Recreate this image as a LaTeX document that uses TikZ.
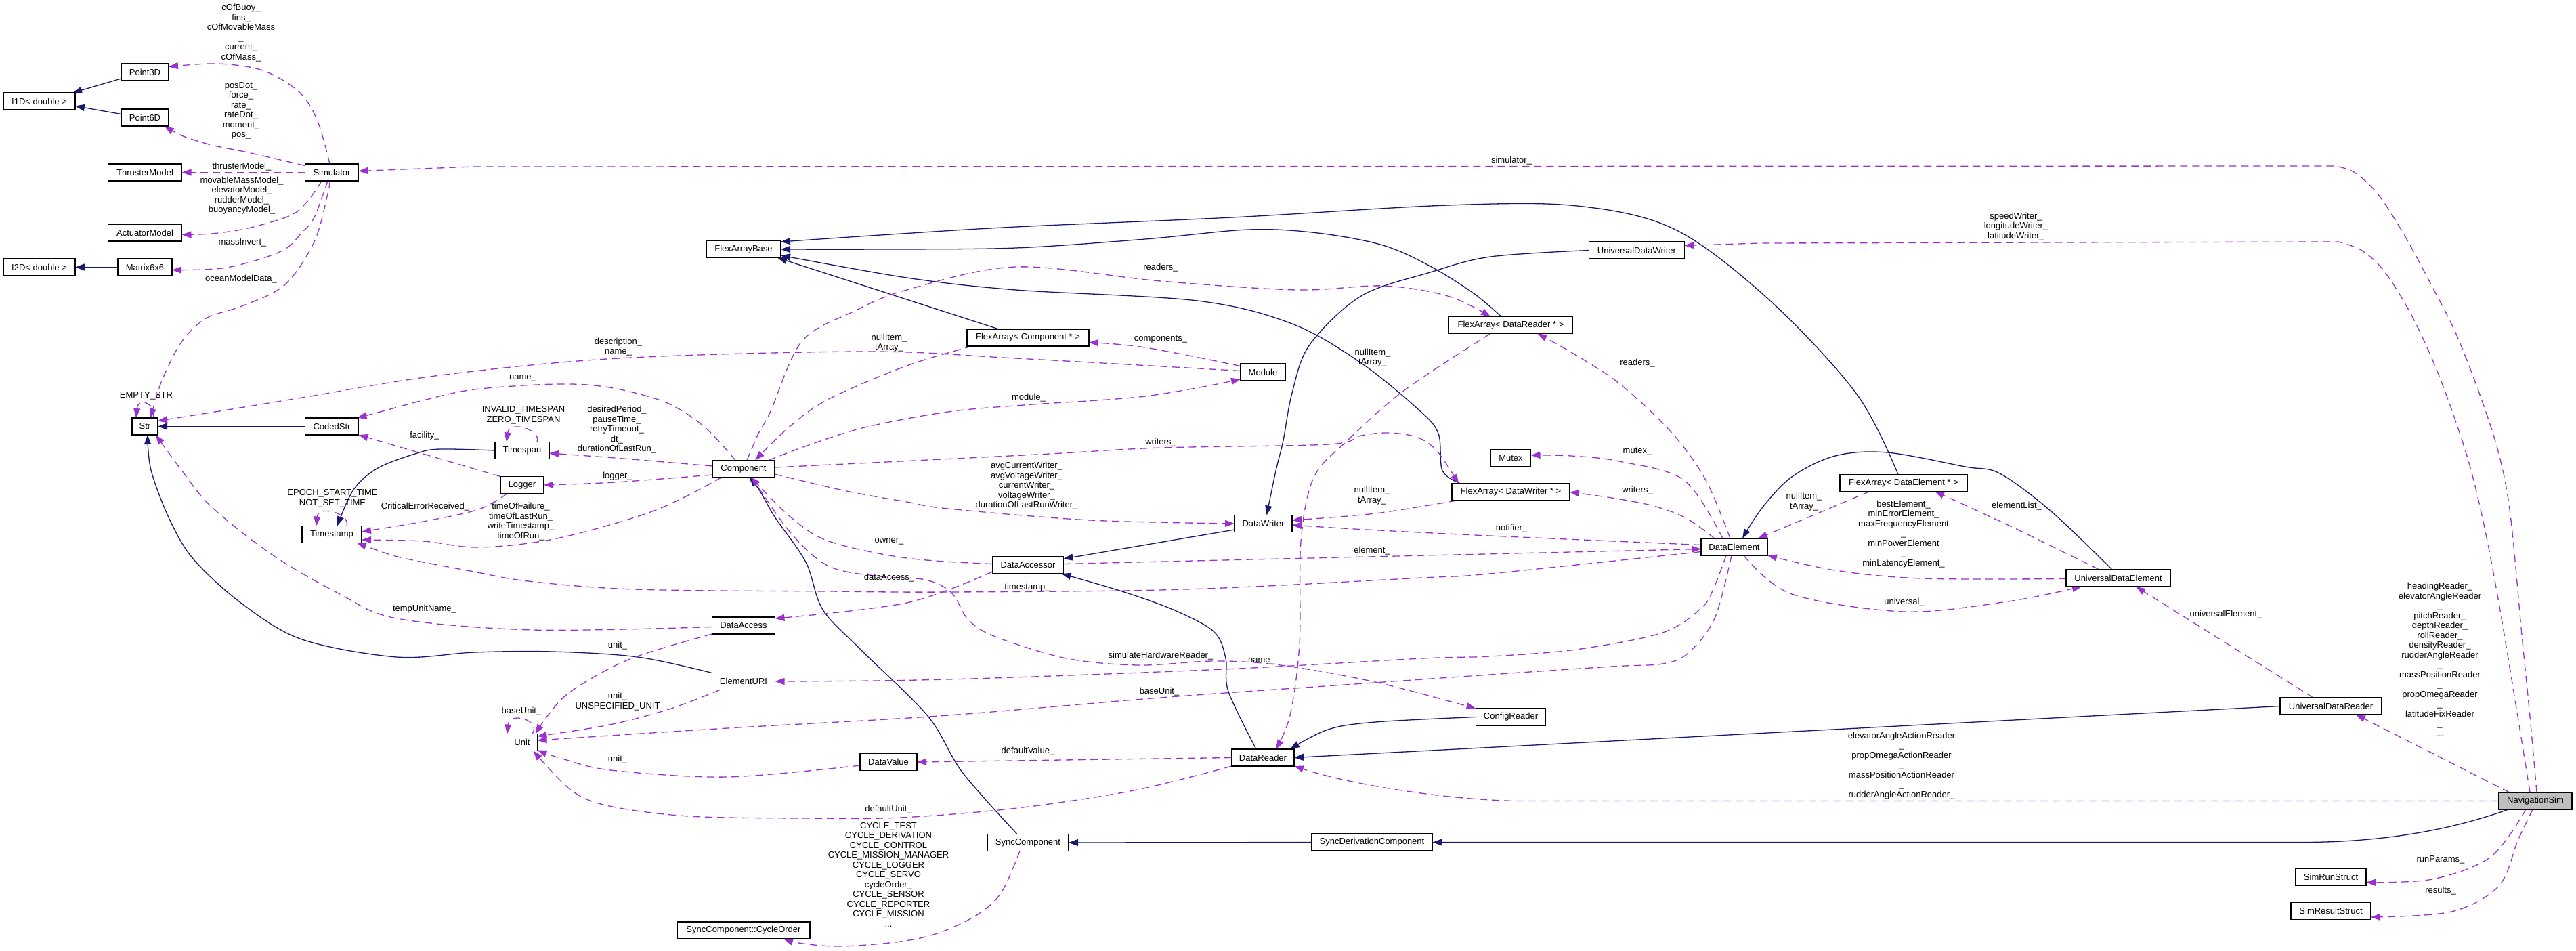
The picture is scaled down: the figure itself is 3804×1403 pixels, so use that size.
\documentclass[tikz,border=0pt]{standalone}
\usepackage{fontspec}
\setmainfont{Liberation Sans}
\usetikzlibrary{arrows.meta}
\definecolor{inhcol}{HTML}{191970}
\definecolor{usecol}{HTML}{9A32CD}
\definecolor{navfill}{HTML}{BFBFBF}
\pgfdeclarelayer{edges}
\pgfsetlayers{edges,main}
\begin{document}
\begin{tikzpicture}[x=1pt,y=-1pt,
  font=\fontsize{13}{14.5}\selectfont,
  cls/.style={draw=black, line width=1.8pt, fill=white, minimum height=25pt, inner sep=0pt, outer sep=0pt},
  lbl/.style={align=center, inner sep=0pt},
  inhe/.style={draw=inhcol, line width=1.3pt, -{Triangle[length=14pt,width=10pt]}},
  usee/.style={draw=usecol, line width=1.3pt, dash pattern=on 11pt off 7pt, -{Triangle[length=14pt,width=10pt]}},
  sm/.style={smooth, tension=0.55}
]
\useasboundingbox (0,0) rectangle (3804,1403);

% ---------------- nodes ----------------
\node[cls, minimum width=106pt] (I1D) at (58,149.5) {I1D< double >};
\node[cls, minimum width=106pt] (I2D) at (58,394.5) {I2D< double >};
\node[cls, minimum width=70pt] (P3) at (214,106.5) {Point3D};
\node[cls, minimum width=70pt] (P6) at (214,173.5) {Point6D};
\node[cls, minimum width=109pt] (Thr) at (214,254.5) {ThrusterModel};
\node[cls, minimum width=109pt] (Act) at (214,343.5) {ActuatorModel};
\node[cls, minimum width=80pt] (Mat) at (214,394.5) {Matrix6x6};
\node[cls, minimum width=38pt] (Str) at (214,629.5) {Str};
\node[cls, minimum width=79pt] (Sim) at (490,254.5) {Simulator};
\node[cls, minimum width=79pt] (Cod) at (490,629.5) {CodedStr};
\node[cls, minimum width=88pt] (Tst) at (490,789) {Timestamp};
\node[cls, minimum width=80pt] (Tsp) at (771,665) {Timespan};
\node[cls, minimum width=64pt] (Log) at (771,716) {Logger};
\node[cls, minimum width=45pt] (Unit) at (771,1096) {Unit};
\node[cls, minimum width=110pt] (FAB) at (1098,368) {FlexArrayBase};
\node[cls, minimum width=92pt] (Comp) at (1098,692) {Component};
\node[cls, minimum width=93pt] (DAcc) at (1098,923.5) {DataAccess};
\node[cls, minimum width=93pt] (EURI) at (1098,1006) {ElementURI};
\node[cls, minimum width=196pt] (Cyc) at (1098,1373.5) {SyncComponent::CycleOrder};
\node[cls, minimum width=84pt] (DVal) at (1312,1125) {DataValue};
\node[cls, minimum width=180pt] (FAC) at (1518,498.5) {FlexArray< Component * >};
\node[cls, minimum width=105pt] (DAcr) at (1518,834.5) {DataAccessor};
\node[cls, minimum width=120pt] (SyncC) at (1518,1244) {SyncComponent};
\node[cls, minimum width=66pt] (Mod) at (1865,549.5) {Module};
\node[cls, minimum width=85pt] (DW) at (1865.5,773) {DataWriter};
\node[cls, minimum width=92pt] (DR) at (1865,1118.5) {DataReader};
\node[cls, minimum width=183pt] (FADR) at (2231,480) {FlexArray< DataReader * >};
\node[cls, minimum width=59pt] (Mutex) at (2231,676) {Mutex};
\node[cls, minimum width=174pt] (FADW) at (2231,726.5) {FlexArray< DataWriter * >};
\node[cls, minimum width=103pt] (Conf) at (2231,1058.5) {ConfigReader};
\node[cls, minimum width=179pt] (SyncD) at (2026,1243.5) {SyncDerivationComponent};
\node[cls, minimum width=141pt] (UDW) at (2417,369.5) {UniversalDataWriter};
\node[cls, minimum width=98pt] (DE) at (2561,807.5) {DataElement};
\node[cls, minimum width=188pt] (FADE) at (2811,713) {FlexArray< DataElement * >};
\node[cls, minimum width=154pt] (UDE) at (3128,853.5) {UniversalDataElement};
\node[cls, minimum width=150pt] (UDR) at (3442,1042.5) {UniversalDataReader};
\node[cls, minimum width=104pt] (SRun) at (3442,1294.5) {SimRunStruct};
\node[cls, minimum width=118pt] (SRes) at (3442,1345) {SimResultStruct};
\node[cls, minimum width=108pt, fill=navfill] (Nav) at (3744,1182.5) {NavigationSim};

% ---------------- labels ----------------
\node[lbl] (L1) at (356,48.5) {cOfBuoy\_\\fins\_\\cOfMovableMass\\\_\\current\_\\cOfMass\_};
\node[lbl] (L2) at (356,163.5) {posDot\_\\force\_\\rate\_\\rateDot\_\\moment\_\\pos\_};
\node[lbl] (L3) at (357,246) {thrusterModel\_};
\node[lbl] (L4) at (357,288.5) {movableMassModel\_\\elevatorModel\_\\rudderModel\_\\buoyancyModel\_};
\node[lbl] (L5) at (358,358) {massInvert\_};
\node[lbl] (L6) at (356,412) {oceanModelData\_};
\node[lbl] (L7) at (216,584) {EMPTY\_STR};
\node[lbl] (L8) at (491,735.5) {EPOCH\_START\_TIME\\NOT\_SET\_TIME};
\node[lbl] (L9) at (627,643) {facility\_};
\node[lbl] (L10) at (628,748) {CriticalErrorReceived\_};
\node[lbl] (L11) at (627,899) {tempUnitName\_};
\node[lbl] (L12) at (913,512) {description\_\\name\_};
\node[lbl] (L13) at (1313,506) {nullItem\_\\tArray\_};
\node[lbl] (L14) at (772,558.5) {name\_};
\node[lbl] (L15) at (773,612.5) {INVALID\_TIMESPAN\\ZERO\_TIMESPAN};
\node[lbl] (L16) at (911,634.5) {desiredPeriod\_\\pauseTime\_\\retryTimeout\_\\dt\_\\durationOfLastRun\_};
\node[lbl] (L17) at (1519,587) {module\_};
\node[lbl] (L18) at (912,703) {logger\_};
\node[lbl] (L19) at (769,770) {timeOfFailure\_\\timeOfLastRun\_\\writeTimestamp\_\\timeOfRun\_};
\node[lbl] (L20) at (1313,799) {owner\_};
\node[lbl] (L21) at (1313,853) {dataAccess\_};
\node[lbl] (L22) at (1517,867) {timestamp\_};
\node[lbl] (L23) at (1516,717.5) {avgCurrentWriter\_\\avgVoltageWriter\_\\currentWriter\_\\voltageWriter\_\\durationOfLastRunWriter\_};
\node[lbl] (L24) at (1714,395.5) {readers\_};
\node[lbl] (L25) at (1714,501) {components\_};
\node[lbl] (L26) at (2027,528) {nullItem\_\\tArray\_};
\node[lbl] (L27) at (1714,653) {writers\_};
\node[lbl] (L28) at (2232,237) {simulator\_};
\node[lbl] (L29) at (2418,536) {readers\_};
\node[lbl] (L30) at (2418,667) {mutex\_};
\node[lbl] (L31) at (2418,724) {writers\_};
\node[lbl] (L32) at (2026,731.5) {nullItem\_\\tArray\_};
\node[lbl] (L33) at (2232,780) {notifier\_};
\node[lbl] (L34) at (2026,813) {element\_};
\node[lbl] (L35) at (2977,334.5) {speedWriter\_\\longitudeWriter\_\\latitudeWriter\_};
\node[lbl] (L36) at (2664,740.5) {nullItem\_\\tArray\_};
\node[lbl] (L37) at (2811,788.5) {bestElement\_\\minErrorElement\_\\maxFrequencyElement\\\_\\minPowerElement\\\_\\minLatencyElement\_};
\node[lbl] (L38) at (2978,747) {elementList\_};
\node[lbl] (L39) at (2812,889) {universal\_};
\node[lbl] (L40) at (3287,907) {universalElement\_};
\node[lbl] (L41) at (3603,974) {headingReader\_\\elevatorAngleReader\\\_\\pitchReader\_\\depthReader\_\\rollReader\_\\densityReader\_\\rudderAngleReader\\\_\\massPositionReader\\\_\\propOmegaReader\\\_\\latitudeFixReader\\\_\\...};
\node[lbl] (L42) at (3604,1269) {runParams\_};
\node[lbl] (L43) at (3604,1315) {results\_};
\node[lbl] (L44) at (2808,1130.5) {elevatorAngleActionReader\\\_\\propOmegaActionReader\\\_\\massPositionActionReader\\\_\\rudderAngleActionReader\_};
\node[lbl] (L45) at (1714,968) {simulateHardwareReader\_};
\node[lbl] (L46) at (1863,976) {name\_};
\node[lbl] (L47) at (1712,1021) {baseUnit\_};
\node[lbl] (L48) at (1518,1109) {defaultValue\_};
\node[lbl] (L49) at (1312,1195) {defaultUnit\_};
\node[lbl] (L50) at (1312,1291) {CYCLE\_TEST\\CYCLE\_DERIVATION\\CYCLE\_CONTROL\\CYCLE\_MISSION\_MANAGER\\CYCLE\_LOGGER\\CYCLE\_SERVO\\cycleOrder\_\\CYCLE\_SENSOR\\CYCLE\_REPORTER\\CYCLE\_MISSION\\...};
\node[lbl] (L51) at (770,1050) {baseUnit\_};
\node[lbl] (L52) at (912,953) {unit\_};
\node[lbl] (L53) at (912,1035.5) {unit\_\\UNSPECIFIED\_UNIT};
\node[lbl] (L54) at (912,1121) {unit\_};

\begin{pgfonlayer}{edges}
% ---------------- inheritance ----------------
\draw[inhe] ([yshift=3pt]P3.south west) -- ([xshift=-4pt]I1D.north east);
\draw[inhe] ([yshift=5pt]P6.west) -- ([yshift=-7pt]I1D.east);
\draw[inhe] (Mat.west) -- (I2D.east);
\draw[inhe] (Cod.west) -- (Str.east);
\draw[inhe] plot[sm] coordinates {(EURI.north west) (942,970) (816,962) (701,963) (586,970) (446,944) (357,891) (286,826) (250,766) (223,694) ([xshift=4pt]Str.south)};
\draw[inhe] plot[sm] coordinates {(Tsp.west) (650,663) (616,669) (558,691) (522,723) ([xshift=8pt]Tst.north)};
\draw[inhe] ([xshift=-43pt]FAC.north) -- ([xshift=-5pt]FAB.south east);
\draw[inhe] plot[sm] coordinates {([xshift=-14pt]FADR.north) (2176,433) (2112,393) (2042,362) (1946,344) (1844,339) (1691,353) (1500,366) (1300,368) (FAB.east)};
\draw[inhe] plot[sm] coordinates {([xshift=-8pt]FADE.north) (2742,582) (2614,444) (2474,339) (2329,304) (2138,303) (1819,321) (1500,335) (1300,347) ([yshift=11pt]FAB.east)};
\draw[inhe] plot[sm] coordinates {([xshift=13pt]FADW.north west) (2130,695) (2124,640) (2095,605) (2010,536) (1908,478) (1768,444) (1500,428) (1339,410) ([yshift=-9pt]FAB.east)};
\draw[inhe] plot[sm] coordinates {(UDW.west) (2201,379) (2112,402) (2010,437) (1934,509) (1908,580) (1895,650) (1884,695) ([xshift=5pt]DW.north)};
\draw[inhe] ([yshift=-9pt]DW.west) -- ([yshift=-3pt]DAcr.north east);
\draw[inhe] plot[sm] coordinates {([xshift=-10pt]DR.north) (1814,1021) (1810,972) (1793,933) (1737,902) (1660,874) ([xshift=-3pt]DAcr.south east)};
\draw[inhe] plot[sm] coordinates {(Conf.west) (2031,1066) (1961,1077) ([xshift=-6pt]DR.north east)};
\draw[inhe] (UDR.west) -- (DR.east);
\draw[inhe] plot[sm] coordinates {([xshift=-9pt]UDE.north) (3029,755) (2953,699) (2902,689) (2787,668) (2710,673) (2646,704) (2602,750) ([xshift=12pt]DE.north)};
\draw[inhe] plot[sm] coordinates {([xshift=-16pt]SyncC.north) (1421,1140) (1370,1057) (1272,960) (1215,900) (1190,830) (1144,763) (1121,723) ([xshift=8pt]Comp.south)};
\draw[inhe] (SyncD.west) -- (SyncC.east);
\draw[inhe] ([xshift=-40pt]Nav.south) .. controls (3620,1225) and (3520,1243.5) .. (3400,1243.5) -- (SyncD.east);

% ---------------- usage ----------------
\draw[usee] plot[sm] coordinates {([xshift=-3pt]Sim.north) (469,179) (442,136) (388,104) (321,94) ([yshift=8pt]P3.east)};
\draw[usee] plot[sm] coordinates {([yshift=10pt]Sim.west) (366,225) (312,214) (268,200) ([xshift=-6pt]P6.south east)};
\draw[usee] (Sim.west) -- (Thr.east);
\draw[usee] plot[sm] coordinates {([xshift=-15pt]Sim.south) (455,296) (429,318) (366,337) (312,345) ([yshift=-3pt]Act.east)};
\draw[usee] plot[sm] coordinates {([xshift=-6pt]Sim.south) (464,321) (446,343) (415,371) (335,395) ([yshift=-4pt]Mat.east)};
\draw[usee] plot[sm] coordinates {([xshift=-3pt]Sim.south) (484,286) (464,357) (420,421) (357,452) (304,470) (268,505) (241,557) (230,590) ([xshift=8pt]Str.north)};
\draw[usee] plot[sm] coordinates {([xshift=2pt]Nav.north) (3736,1058) (3724,938) (3707,760) (3690,670) (3661,580) (3626,491) (3592,424) (3551,348) (3511,286) (3476,254) (3447,245)} -- (700,246) -- ([yshift=2pt]Sim.east);
\draw[usee] plot[sm] coordinates {([xshift=-8pt]Nav.north) (3718,1058) (3690,890) (3667,770) (3642,670) (3603,558) (3563,469) (3522,402) (3488,370) (3453,357)} -- (2600,359) -- ([yshift=7pt]UDW.east);
\draw[usee] ([xshift=-38pt]Nav.north) -- ([xshift=-38pt]UDR.south east);
\draw[usee] (Nav.west) -- (2250,1182.5) .. controls (2150,1182.5) and (2000,1160) .. (DR.south east);
\draw[usee] plot[sm] coordinates {([xshift=-6pt]DE.north) (2519,709) (2468,638) (2391,566) (2320,520) ([xshift=-52pt]FADR.south east)};
\draw[usee] plot[sm] coordinates {([xshift=-17pt]DE.north) (2487,709) (2391,681) (2320,673) ([yshift=4pt]Mutex.east)};
\draw[usee] plot[sm] coordinates {([xshift=-29pt]DE.north) (2490,765) (2442,747) (2380,735) (FADW.east)};
\draw[usee] plot[sm] coordinates {([yshift=3pt]DE.west) (2200,791) (2000,781) ([yshift=-2pt]DW.east)};
\draw[usee] ([yshift=2pt]DAcr.east) -- ([yshift=-3pt]DE.west);
\draw[usee] plot[sm] coordinates {([yshift=-7pt]DE.west) (2200,847) (2100,853) (1751,870) (1400,874) (1224,873) (937,870) (780,858) (700,844) (620,829) (580,820) ([xshift=-7pt]Tst.south east)};
\draw[usee] plot[sm] coordinates {([xshift=-12pt]DE.south) (2530,870) (2512,898) (2455,934) (2327,959) (2200,969) (2101,972) (1807,988) (1400,1003) (EURI.east)};
\draw[usee] plot[sm] coordinates {([xshift=-4pt]DE.south) (2532,913) (2493,964) (2455,980) (2380,984) (2200,996) (2000,1010) (1713,1030) (1387,1057) (1074,1075) ([yshift=3pt]Unit.east)};
\draw[usee] plot[sm] coordinates {([xshift=12pt]Comp.south) (1167,786) (1224,836) (1300,851) (1367,856) (1405,875) (1430,915) (1470,940) (1575,972) (1681,982) (1793,976) (1891,982) (2031,1007) (Conf.north west)};
\draw[usee] plot[sm] coordinates {([yshift=2pt]DAcr.west) (1339,824) (1224,799) (1167,763) ([xshift=11pt]Comp.south)};
\draw[usee] plot[sm] coordinates {([yshift=3pt]DAcr.south west) (1339,890) ([yshift=-2pt]DAcc.north east)};
\draw[usee] plot[sm] coordinates {([yshift=2pt]Mod.west) (1500,529) (1281,519) (913,529) (650,554) (446,587) (330,606) ([yshift=8pt]Str.east)};
\draw[usee] plot[sm] coordinates {([xshift=-12pt]Comp.north) (1040,630) (983,594) (900,572) (822,567) (700,575) (625,591) (580,603) ([xshift=-2pt]Cod.north east)};
\draw[usee] plot[sm] coordinates {([yshift=4pt]Comp.west) (908,676) ([yshift=-4pt]Tsp.east)};
\draw[usee] plot[sm] coordinates {([yshift=-9pt]Comp.west) (908,712) (Log.east)};
\draw[usee] plot[sm] coordinates {([xshift=-32pt]Comp.south) (966,754) (822,795) (707,808) (625,799) ([yshift=-8pt]Tst.east)};
\draw[usee] plot[sm] coordinates {([xshift=5pt]Comp.north) (1120,640) (1138,607) (1184,504) (1260,460) (1339,428) (1500,394) (1714,415) (1915,428) (2042,422) (2138,437) ([xshift=-30pt]FADR.north)};
\draw[usee] plot[sm] coordinates {([yshift=2pt]Comp.east) (1350,680) (1550,670) (1714,661) (1961,656) (2010,643) (2052,639) (2094,646) (2123,667) ([xshift=10pt]FADW.north west)};
\draw[usee] plot[sm] coordinates {([xshift=37pt]Comp.north) (1200,655) (1281,630) (1400,608) (1511,598) (1691,585) ([yshift=2pt]Mod.south west)};
\draw[usee] plot[sm] coordinates {([yshift=-8pt]Comp.east) (1250,725) (1339,741) (1400,751) (1610,768) (DW.west)};
\draw[usee] plot[sm] coordinates {([xshift=8pt]FAC.south west) (1339,540) (1224,589) (1167,629) ([xshift=17pt]Comp.north)};
\draw[usee] plot[sm] coordinates {([yshift=9pt]Mod.west) (1691,513) ([yshift=-7pt]FAC.east)};
\draw[usee] plot[sm] coordinates {([xshift=-30pt]FADR.south) (2074,576) (1990,650) (1940,705) (1921,800) (1919,951) (1905,1056) ([xshift=19pt]DR.north)};
\draw[usee] plot[sm] coordinates {([xshift=7pt]FADW.south west) (2031,758) ([yshift=5pt]DW.east)};
\draw[usee] plot[sm] coordinates {([xshift=-50pt]FADE.south) (2691,755) ([xshift=-14pt]DE.north east)};
\draw[usee] plot[sm] coordinates {([xshift=-28pt]UDE.north) (2965,775) ([xshift=46pt]FADE.south)};
\draw[usee] plot[sm] coordinates {([yshift=-1pt]UDE.west) (2838,854) (2710,842) (DE.south east)};
\draw[usee] plot[sm] coordinates {([xshift=14pt]DE.south) (2646,877) (2812,903) (2965,888) ([xshift=23pt]UDE.south west)};
\draw[usee] ([xshift=-26pt]UDR.north) -- ([xshift=26pt]UDE.south);
\draw[usee] plot[sm] coordinates {([xshift=-14pt]Nav.south) (3678,1265) (3592,1298) ([yshift=-8pt]SRun.east)};
\draw[usee] plot[sm] coordinates {([xshift=-4pt]Nav.south) (3718,1241) (3690,1308) (3620,1346) ([yshift=-9pt]SRes.east)};
\draw[usee] (DR.west) -- (DVal.east);
\draw[usee] plot[sm] coordinates {(DR.south west) (1674,1167) (1502,1193) (1330,1207) (1189,1208) (1017,1205) (900,1190) (844,1167) ([xshift=-6pt]Unit.south east)};
\draw[usee] plot[sm] coordinates {([yshift=-5pt]DVal.west) (1074,1147) (902,1137) (830,1120) ([yshift=1pt]Unit.south east)};
\draw[usee] plot[sm] coordinates {(DAcc.south west) (930,973) (844,1020) (810,1055) ([xshift=-3pt]Unit.north east)};
\draw[usee] plot[sm] coordinates {([xshift=-35pt]EURI.south) (988,1047) (900,1070) ([yshift=9pt]Unit.east)};
\draw[usee] plot[sm] coordinates {([yshift=-2pt]DAcc.west) (787,930) (586,913) (500,876) (402,819) (312,748) (268,694) ([xshift=-3pt]Str.south east)};
\draw[usee] (Log.north west) -- (Cod.south east);
\draw[usee] plot[sm] coordinates {([xshift=-22pt]Log.south) (707,752) (625,770) ([yshift=4pt]Tst.east)};
\draw[usee] plot[sm] coordinates {([xshift=-12pt]SyncC.south) (1479,1317) (1444,1350) (1387,1377) (1330,1390) (1243,1397) (1186,1393) ([xshift=59pt]Cyc.south)};
% self loops
\draw[usee] ([xshift=12pt]Str.north) .. controls (232,596) and (204,585) .. ([xshift=-13pt]Str.north);
\draw[usee] ([xshift=22pt]Tst.north) .. controls (518,758) and (470,745) .. ([xshift=-23pt]Tst.north);
\draw[usee] ([xshift=22pt]Tsp.north) .. controls (800,634) and (752,620) .. ([xshift=-23pt]Tsp.north);
\draw[usee] ([xshift=15pt]Unit.north) .. controls (800,1063) and (752,1050) .. ([xshift=-22pt]Unit.north);
\end{pgfonlayer}
\end{tikzpicture}
\end{document}
